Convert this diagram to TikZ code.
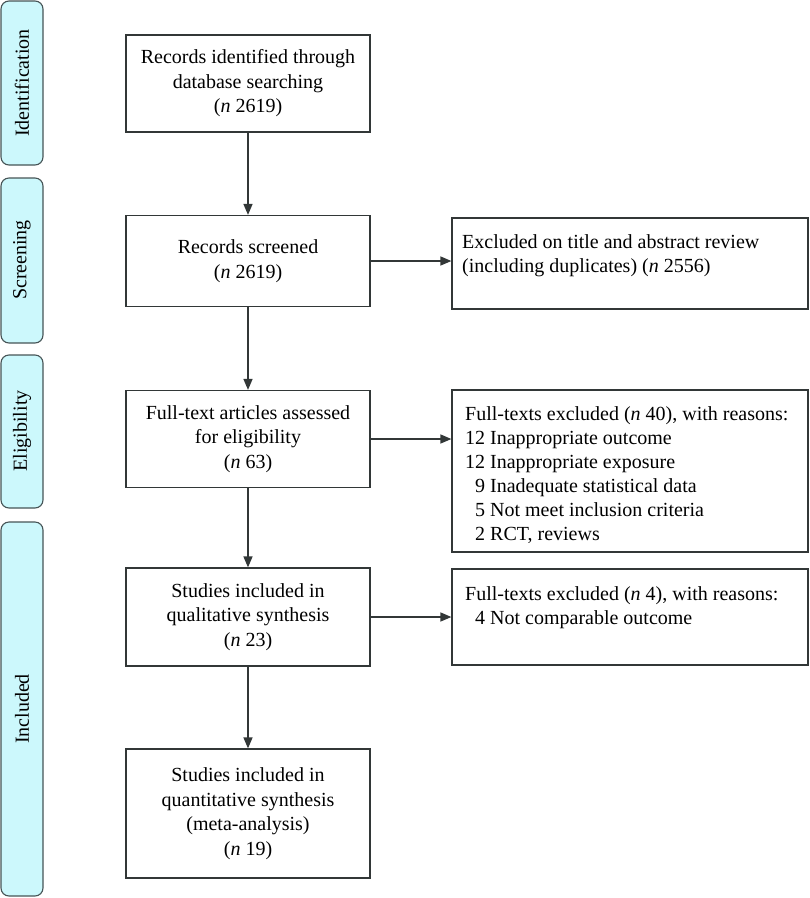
\documentclass[tikz,border=0pt]{standalone}
\usepackage{fontspec}
\setmainfont{Liberation Serif}
\usetikzlibrary{arrows.meta}
\definecolor{bandfill}{RGB}{204,248,252}
\definecolor{bandline}{RGB}{70,84,86}
\definecolor{boxline}{RGB}{50,55,55}
\tikzset{
  band/.style={draw=bandline, fill=bandfill, line width=1.1pt, rounded corners=8pt},
  bandlabel/.style={rotate=90, font=\fontsize{20}{24}\selectfont, inner sep=0pt},
  mainbox/.style={draw=boxline, line width=1.2pt, minimum width=244pt, align=center, inner sep=0pt, font=\fontsize{20}{24.5}\selectfont},
  sidebox/.style={draw=boxline, line width=1.2pt, minimum width=356pt, inner sep=0pt},
  sidetext/.style={anchor=north west, align=left, inner sep=0pt, font=\fontsize{20}{24}\selectfont},
  flow/.style={draw=boxline, line width=1.5pt, -{Triangle[length=11pt,width=9pt]}}
}
\begin{document}
\begin{tikzpicture}[x=1pt,y=-1pt]
\useasboundingbox (0,0) rectangle (810,898);
% bands
\path[band] (1,1) rectangle (43,165) node[bandlabel] (lid) at (22,83) {Identification};
\path[band] (1,178) rectangle (43,343) node[bandlabel] (lsc) at (22,260) {Screening};
\path[band] (1,355) rectangle (43,508) node[bandlabel] (lel) at (22,431) {Eligibility};
\path[band] (1,522) rectangle (43,896) node[bandlabel] (lin) at (22,709) {Included};
% main column
\node[mainbox, minimum height=97pt] (b1) at (248,83.5) {Records identified through\\database searching\\(\textit{n} 2619)};
\node[mainbox, minimum height=91pt] (b2) at (248,261) {Records screened\\(\textit{n} 2619)};
\node[mainbox, minimum height=97pt] (b3) at (248,439) {Full-text articles assessed\\for eligibility\\(\textit{n} 63)};
\node[mainbox, minimum height=98pt] (b4) at (248,617) {Studies included in\\qualitative synthesis\\(\textit{n} 23)};
\node[mainbox, minimum height=129pt] (b5) at (248,813.5) {Studies included in\\quantitative synthesis\\(meta-analysis)\\(\textit{n} 19)};
% side column
\node[sidebox, minimum height=91pt] (s1) at (630,263.5) {};
\node[sidetext] (t1) at (462,234) {Excluded on title and abstract review\\(including duplicates) (\textit{n} 2556)};
\node[sidebox, minimum height=162pt] (s2) at (630,471) {};
\node[sidetext] (t2) at (465,406) {Full-texts excluded (\textit{n} 40), with reasons:\\12 Inappropriate outcome\\12 Inappropriate exposure\\\phantom{1}9 Inadequate statistical data\\\phantom{1}5 Not meet inclusion criteria\\\phantom{1}2 RCT, reviews};
\node[sidebox, minimum height=96pt] (s3) at (630,617) {};
\node[sidetext] (t3) at (465,586) {Full-texts excluded (\textit{n} 4), with reasons:\\\phantom{1}4 Not comparable outcome};
% arrows
\draw[flow] (b1) -- (b2);
\draw[flow] (b2) -- (b3);
\draw[flow] (b3) -- (b4);
\draw[flow] (b4) -- (b5);
\draw[flow] (b2.east) -- (b2.east -| s1.west);
\draw[flow] (b3.east) -- (b3.east -| s2.west);
\draw[flow] (b4.east) -- (b4.east -| s3.west);
\end{tikzpicture}
\end{document}
